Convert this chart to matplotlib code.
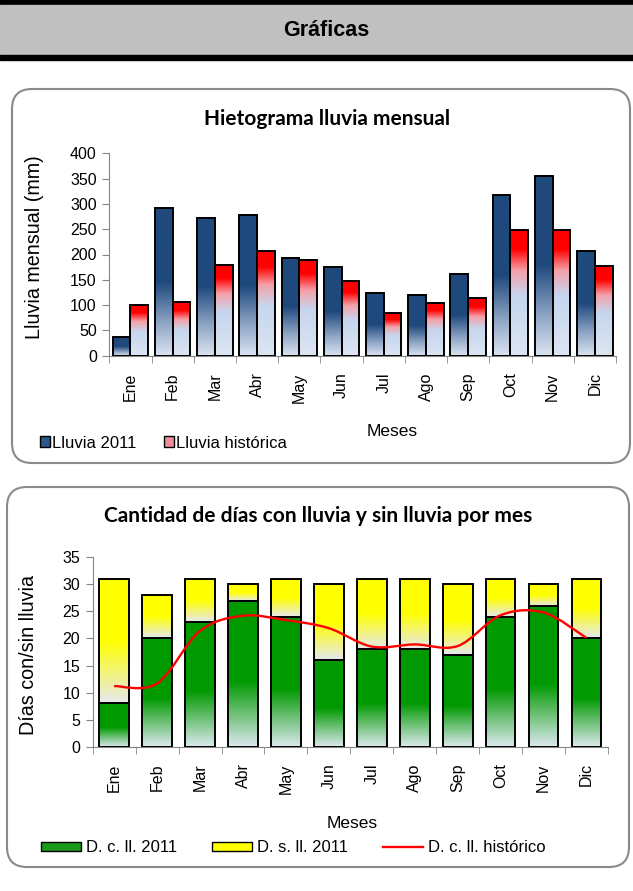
import numpy as np
import matplotlib
matplotlib.use('Agg')
import matplotlib.pyplot as plt
from matplotlib.colors import LinearSegmentedColormap
from matplotlib.patches import Rectangle, FancyBboxPatch, Patch, PathPatch
from matplotlib.lines import Line2D
from matplotlib.path import Path

# Datos
meses = ['Ene', 'Feb', 'Mar', 'Abr', 'May', 'Jun', 'Jul', 'Ago', 'Sep', 'Oct', 'Nov', 'Dic']
lluvia_2011 = [36, 291, 273, 278, 194, 175, 123, 119, 161, 318, 356, 206]
lluvia_historica = [100, 106, 180, 206, 190, 147, 84, 105, 114, 248, 249, 177]
dias_con_lluvia = [8, 20, 23, 27, 24, 16, 18, 18, 17, 24, 26, 20]
dias_sin_lluvia = [23, 8, 8, 3, 7, 14, 13, 13, 13, 7, 4, 11]
dias_con_historico = [11.2, 11.7, 21.4, 24.2, 23.4, 21.9, 18.5, 18.9, 18.6, 24.3, 24.8, 20.1]

plt.rcParams['font.family'] = ['Liberation Sans', 'DejaVu Sans']

# Degradados (de abajo hacia arriba)
cm_azul = LinearSegmentedColormap.from_list('azul', [(0, '#dbe4f1'), (0.22, '#8fa6c6'), (0.5, '#1f497d'), (1, '#1f497d')])
cm_rojo = LinearSegmentedColormap.from_list('rojo', [(0, '#dce5f2'), (0.48, '#c6d6ee'), (0.68, '#f4a0a8'), (0.85, '#ff0000'), (1, '#ff0000')])
cm_verde = LinearSegmentedColormap.from_list('verde', [(0, '#dde9ef'), (0.45, '#009900'), (1, '#009900')])
cm_amarillo = LinearSegmentedColormap.from_list('amarillo', [(0, '#e6e9ef'), (0.5, '#ffff00'), (1, '#ffff00')])
grad = np.linspace(0, 1, 256).reshape(-1, 1)

W, H = 633, 891
fig = plt.figure(figsize=(W / 100, H / 100), dpi=100)

# Fondo: encabezado y marcos redondeados
bg = fig.add_axes([0, 0, 1, 1], zorder=0)
bg.set_xlim(0, W)
bg.set_ylim(H, 0)
bg.axis('off')
bg.add_patch(Rectangle((0, 0), W, 5, color='black'))
bg.add_patch(Rectangle((0, 5), W, 50, color='#c0c0c0'))
bg.add_patch(Rectangle((0, 55), W, 5, color='black'))
bg.text(326, 31, 'Gráficas', ha='center', va='center', fontsize=15.5, fontweight='bold')
for (x0, y0, w, h) in [(12, 89, 618, 374), (7, 487, 622, 380)]:
    bg.add_patch(FancyBboxPatch((x0, y0), w, h, boxstyle='round,pad=0,rounding_size=20',
                                fc='white', ec='#8a8a8a', lw=1.5))


def ax_px(left, top, right, bottom):
    return fig.add_axes([left / W, 1 - bottom / H, (right - left) / W, (bottom - top) / H], zorder=1)


def estilo(ax, ymax, ystep):
    x = np.arange(len(meses))
    ax.set_facecolor('none')
    ax.set_xlim(-0.5, len(meses) - 0.5)
    ax.set_ylim(0, ymax)
    ax.set_yticks(np.arange(0, ymax + 1, ystep))
    ax.set_xticks(x)
    ax.set_xticklabels(meses, rotation=90)
    ax.set_xticks(np.arange(-0.5, len(meses), 1), minor=True)
    for s in ['top', 'right']:
        ax.spines[s].set_visible(False)
    for s in ['left', 'bottom']:
        ax.spines[s].set_color('#868686')
    ax.tick_params(axis='y', length=5, color='#868686', labelsize=11.5, pad=4)
    ax.tick_params(axis='x', which='major', length=0, labelsize=11.5, pad=12)
    ax.tick_params(axis='x', which='minor', length=5, color='#868686')


def barras_degradado(ax, bars, cmap):
    for r in bars:
        x0, y0 = r.get_x(), r.get_y()
        w, h = r.get_width(), r.get_height()
        ax.imshow(grad, extent=[x0, x0 + w, y0, y0 + h], origin='lower', aspect='auto',
                  cmap=cmap, zorder=2, interpolation='bilinear')


# --- Grafico 1: hietograma ---
ax1 = ax_px(109.3, 153.3, 616, 355.7)
x = np.arange(len(meses))
bw = 0.42
b1 = ax1.bar(x - bw / 2, lluvia_2011, bw, fill=False, edgecolor='black', lw=1.4, zorder=3)
b2 = ax1.bar(x + bw / 2, lluvia_historica, bw, fill=False, edgecolor='black', lw=1.4, zorder=3)
barras_degradado(ax1, b1, cm_azul)
barras_degradado(ax1, b2, cm_rojo)
estilo(ax1, 400, 50)
ax1.set_ylabel('Lluvia mensual (mm)', fontsize=14.2)
ax1.yaxis.set_label_coords(44 / W, 1 - 247 / H, transform=fig.transFigure)
fig.text(327 / W, 1 - 119 / H, 'Hietograma lluvia mensual', ha='center', va='center',
         fontsize=15, fontweight='bold', family=['Lato', 'DejaVu Sans'])
fig.text(392 / W, 1 - 431 / H, 'Meses', ha='center', va='center', fontsize=12.5)
h1 = [Patch(facecolor='#2d568a', edgecolor='black'), Patch(facecolor='#ef8f99', edgecolor='black')]
fig.legend(h1, ['Lluvia 2011', 'Lluvia histórica'], loc='center left',
           bbox_to_anchor=(40 / W, 1 - 443 / H), ncol=2, frameon=False, fontsize=12,
           handlelength=0.58, handleheight=0.58, handletextpad=0.12, columnspacing=1.7,
           borderpad=0, borderaxespad=0)

# --- Grafico 2: dias con/sin lluvia ---
ax2 = ax_px(92.7, 557.3, 608, 746.7)
bw2 = 0.69
g = ax2.bar(x, dias_con_lluvia, bw2, fill=False, edgecolor='black', lw=1.4, zorder=3)
yl = ax2.bar(x, dias_sin_lluvia, bw2, bottom=dias_con_lluvia, fill=False, edgecolor='black', lw=1.4, zorder=3)
barras_degradado(ax2, g, cm_verde)
barras_degradado(ax2, yl, cm_amarillo)

# linea suavizada (Catmull-Rom -> Bezier)
pts = np.column_stack([x, dias_con_historico]).astype(float)
ext = np.vstack([pts[0], pts, pts[-1]])
verts = [pts[0]]
codes = [Path.MOVETO]
for i in range(len(pts) - 1):
    p0, p1, p2, p3 = ext[i], ext[i + 1], ext[i + 2], ext[i + 3]
    verts += [p1 + (p2 - p0) / 6, p2 - (p3 - p1) / 6, p2]
    codes += [Path.CURVE4] * 3
ax2.add_patch(PathPatch(Path(verts, codes), fill=False, edgecolor='#ff0000', lw=1.7, zorder=4))

estilo(ax2, 35, 5)
ax2.set_ylabel('Días con/sin lluvia', fontsize=14.2)
ax2.yaxis.set_label_coords(38 / W, 1 - 655 / H, transform=fig.transFigure)
fig.text(318 / W, 1 - 516 / H, 'Cantidad de días con lluvia y sin lluvia por mes', ha='center', va='center',
         fontsize=15, fontweight='bold', family=['Lato', 'DejaVu Sans'])
fig.text(352 / W, 1 - 823 / H, 'Meses', ha='center', va='center', fontsize=12.5)
h2 = [Patch(facecolor='#1a9a1a', edgecolor='black'), Patch(facecolor='#ffff00', edgecolor='black'),
      Line2D([], [], color='#ff0000', lw=1.7)]
fig.legend(h2, ['D. c. ll. 2011', 'D. s. ll. 2011', 'D. c. ll. histórico'], loc='center left',
           bbox_to_anchor=(41 / W, 1 - 848 / H), ncol=3, frameon=False, fontsize=12,
           handlelength=2.4, handleheight=0.48, handletextpad=0.3, columnspacing=2.1,
           borderpad=0, borderaxespad=0)

fig.savefig('out.png', dpi=100)
